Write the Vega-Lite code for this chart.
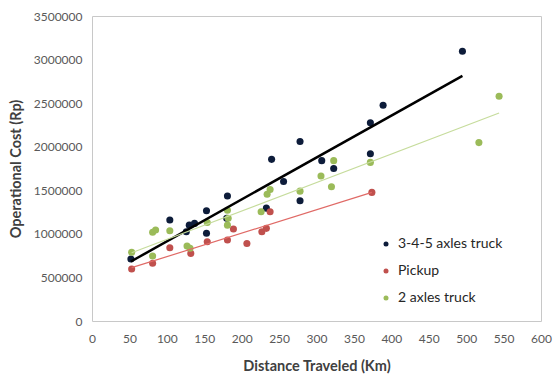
{
  "$schema": "https://vega.github.io/schema/vega-lite/v6.json",
  "width": 449,
  "height": 305,
  "autosize": "none",
  "padding": {"left": 92, "top": 16, "right": 12, "bottom": 57},
  "background": "white",
  "config": {
    "view": {"stroke": "#c8c8c8", "strokeWidth": 1},
    "font": "Lato",
    "axis": {
      "grid": false,
      "domain": false,
      "ticks": false,
      "labelFlush": false,
      "labelFont": "Lato",
      "labelFontSize": 12,
      "labelColor": "#595959",
      "titleFont": "Lato",
      "titleFontSize": 14.5,
      "titleFontWeight": "bold",
      "titleColor": "#404040"
    }
  },
  "data": {
    "values": [
      {"type": "3-4-5 axles truck", "km": 52, "cost": 711000},
      {"type": "3-4-5 axles truck", "km": 104, "cost": 1159000},
      {"type": "3-4-5 axles truck", "km": 130, "cost": 1100000},
      {"type": "3-4-5 axles truck", "km": 137, "cost": 1120000},
      {"type": "3-4-5 axles truck", "km": 126, "cost": 1025000},
      {"type": "3-4-5 axles truck", "km": 153, "cost": 1266000},
      {"type": "3-4-5 axles truck", "km": 153, "cost": 1006000},
      {"type": "3-4-5 axles truck", "km": 181, "cost": 1434000},
      {"type": "3-4-5 axles truck", "km": 180, "cost": 1180000},
      {"type": "3-4-5 axles truck", "km": 233, "cost": 1295000},
      {"type": "3-4-5 axles truck", "km": 240, "cost": 1855000},
      {"type": "3-4-5 axles truck", "km": 256, "cost": 1600000},
      {"type": "3-4-5 axles truck", "km": 278, "cost": 2060000},
      {"type": "3-4-5 axles truck", "km": 278, "cost": 1380000},
      {"type": "3-4-5 axles truck", "km": 307, "cost": 1840000},
      {"type": "3-4-5 axles truck", "km": 323, "cost": 1750000},
      {"type": "3-4-5 axles truck", "km": 372, "cost": 2275000},
      {"type": "3-4-5 axles truck", "km": 372, "cost": 1920000},
      {"type": "3-4-5 axles truck", "km": 389, "cost": 2475000},
      {"type": "3-4-5 axles truck", "km": 495, "cost": 3095000},
      {"type": "Pickup", "km": 53, "cost": 597000},
      {"type": "Pickup", "km": 81, "cost": 662000},
      {"type": "Pickup", "km": 104, "cost": 841000},
      {"type": "Pickup", "km": 132, "cost": 776000},
      {"type": "Pickup", "km": 154, "cost": 910000},
      {"type": "Pickup", "km": 181, "cost": 929000},
      {"type": "Pickup", "km": 189, "cost": 1056000},
      {"type": "Pickup", "km": 207, "cost": 889000},
      {"type": "Pickup", "km": 227, "cost": 1025000},
      {"type": "Pickup", "km": 233, "cost": 1063000},
      {"type": "Pickup", "km": 238, "cost": 1254000},
      {"type": "Pickup", "km": 374, "cost": 1476000},
      {"type": "2 axles truck", "km": 53, "cost": 788000},
      {"type": "2 axles truck", "km": 81, "cost": 746000},
      {"type": "2 axles truck", "km": 81, "cost": 1018000},
      {"type": "2 axles truck", "km": 85, "cost": 1044000},
      {"type": "2 axles truck", "km": 104, "cost": 1036000},
      {"type": "2 axles truck", "km": 127, "cost": 861000},
      {"type": "2 axles truck", "km": 131, "cost": 834000},
      {"type": "2 axles truck", "km": 154, "cost": 1130000},
      {"type": "2 axles truck", "km": 181, "cost": 1270000},
      {"type": "2 axles truck", "km": 182, "cost": 1180000},
      {"type": "2 axles truck", "km": 181, "cost": 1100000},
      {"type": "2 axles truck", "km": 226, "cost": 1254000},
      {"type": "2 axles truck", "km": 234, "cost": 1455000},
      {"type": "2 axles truck", "km": 238, "cost": 1510000},
      {"type": "2 axles truck", "km": 278, "cost": 1490000},
      {"type": "2 axles truck", "km": 306, "cost": 1664000},
      {"type": "2 axles truck", "km": 320, "cost": 1540000},
      {"type": "2 axles truck", "km": 323, "cost": 1840000},
      {"type": "2 axles truck", "km": 372, "cost": 1820000},
      {"type": "2 axles truck", "km": 517, "cost": 2047000},
      {"type": "2 axles truck", "km": 544, "cost": 2580000}
    ]
  },
  "encoding": {
    "x": {
      "field": "km", "type": "quantitative",
      "title": "Distance Traveled (Km)",
      "scale": {"domain": [0, 600], "nice": false},
      "axis": {"values": [0,50,100,150,200,250,300,350,400,450,500,550,600], "labelPadding": 12, "titlePadding": 15}
    },
    "y": {
      "field": "cost", "type": "quantitative",
      "title": "Operational Cost  (Rp)",
      "scale": {"domain": [0, 3500000], "nice": false},
      "axis": {"values": [0,500000,1000000,1500000,2000000,2500000,3000000,3500000], "format": "d", "labelPadding": 10, "titlePadding": 10}
    }
  },
  "layer": [
    {
      "mark": {"type": "circle", "size": 50, "opacity": 1},
      "encoding": {
        "color": {
          "field": "type", "type": "nominal",
          "scale": {"domain": ["3-4-5 axles truck", "Pickup", "2 axles truck"], "range": ["#0d1c3a", "#c0504d", "#9bbb59"]},
          "legend": {
            "title": null,
            "orient": "none",
            "legendX": 287,
            "legendY": 221,
            "symbolSize": 25,
            "symbolType": "circle",
            "labelFontSize": 14,
            "labelFont": "Lato",
            "labelColor": "#262626",
            "rowPadding": 13,
            "labelOffset": 5
          }
        }
      }
    },
    {
      "transform": [{"filter": "datum.type === '3-4-5 axles truck'"}, {"regression": "cost", "on": "km"}],
      "mark": {"type": "line", "color": "#000000", "strokeWidth": 2.5},
      "encoding": {}
    },
    {
      "transform": [{"filter": "datum.type === 'Pickup'"}, {"regression": "cost", "on": "km"}],
      "mark": {"type": "line", "color": "#e06a66", "strokeWidth": 1.2},
      "encoding": {}
    },
    {
      "transform": [{"filter": "datum.type === '2 axles truck'"}, {"regression": "cost", "on": "km"}],
      "mark": {"type": "line", "color": "#c6dc9c", "strokeWidth": 1.2},
      "encoding": {}
    }
  ]
}
